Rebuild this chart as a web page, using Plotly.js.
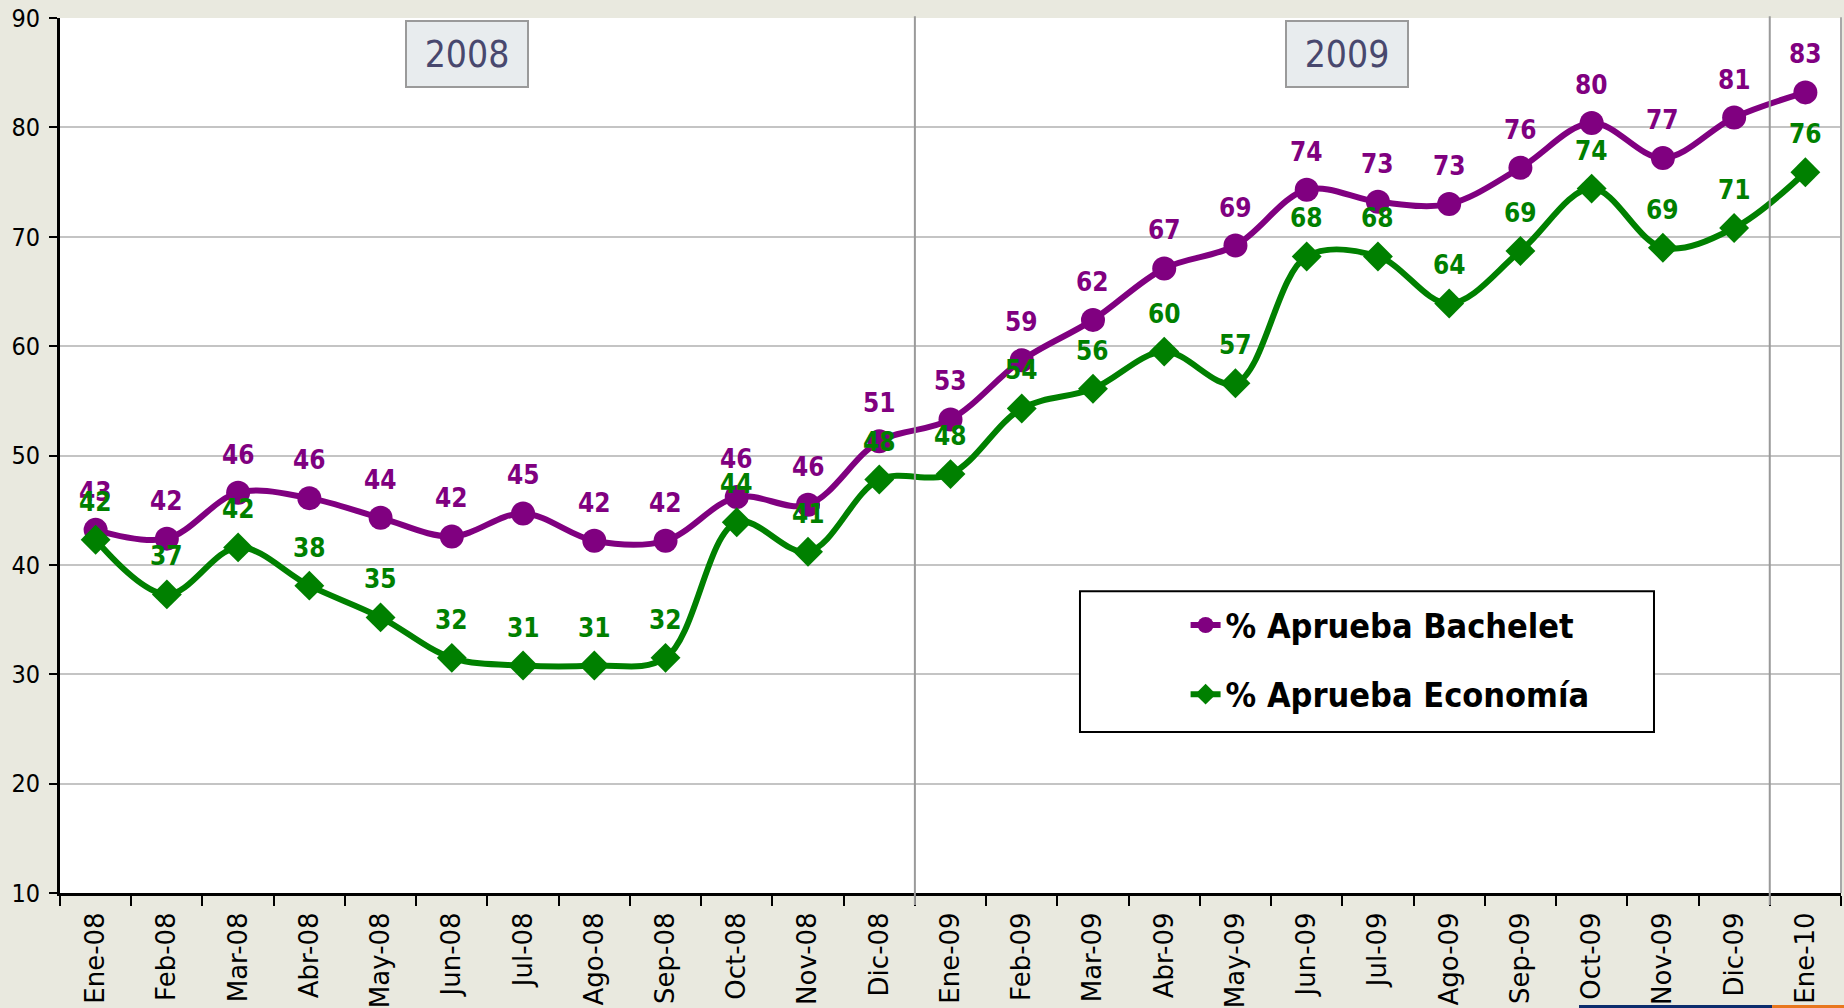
<!DOCTYPE html>
<html>
<head>
<meta charset="utf-8">
<script src="https://cdn.plot.ly/plotly-3.0.1.min.js"></script>
<style>
html,body{margin:0;padding:0;background:#e9e9df;}
#chart{width:1844px;height:1008px;}
</style>
</head>
<body>
<div id="chart"></div>
<script>
// ---- data ----
const months = ["Ene-08","Feb-08","Mar-08","Abr-08","May-08","Jun-08","Jul-08","Ago-08","Sep-08","Oct-08","Nov-08","Dic-08",
                "Ene-09","Feb-09","Mar-09","Abr-09","May-09","Jun-09","Jul-09","Ago-09","Sep-09","Oct-09","Nov-09","Dic-09","Ene-10"];
const bachelet = [43.2,42.4,46.6,46.1,44.3,42.6,44.7,42.2,42.2,46.2,45.5,51.3,
                  53.3,58.7,62.4,67.1,69.2,74.3,73.2,73.0,76.3,80.4,77.2,80.9,83.2];
const bacheletLabels = [43,42,46,46,44,42,45,42,42,46,46,51,53,59,62,67,69,74,73,73,76,80,77,81,83];
const economia = [42.3,37.3,41.6,38.1,35.2,31.5,30.8,30.8,31.5,43.9,41.2,47.8,
                  48.3,54.3,56.1,59.5,56.6,68.2,68.2,63.9,68.7,74.4,69.0,70.8,75.9];
const economiaLabels = [42,37,42,38,35,32,31,31,32,44,41,48,48,54,56,60,57,68,68,64,69,74,69,71,76];
const seriesNames = ["% Aprueba Bachelet","% Aprueba Economía"];
const yearLabels = ["2008","2009"];
const yTicks = [10,20,30,40,50,60,70,80,90];

const PURPLE = "#800080", GREEN = "#008000";
const LABEL_FONT = "DejaVu Sans Condensed, DejaVu Sans, sans-serif";

const traces = [
  {x: months, y: bachelet, name: seriesNames[0], type: "scatter", mode: "lines+markers",
   legendgroup: "a",
   line: {color: PURPLE, width: 6, shape: "spline", smoothing: 1},
   marker: {symbol: "circle", size: 24, color: PURPLE}},
  {x: months, y: economia, name: seriesNames[1], type: "scatter", mode: "lines+markers",
   legendgroup: "b",
   line: {color: GREEN, width: 6, shape: "spline", smoothing: 1},
   marker: {symbol: "diamond", size: 23, color: GREEN}}
];

const annotations = [];
bachelet.forEach((v, i) => annotations.push({
  x: months[i], y: v, xref: "x", yref: "y", text: "<b>" + bacheletLabels[i] + "</b>",
  showarrow: false, yshift: 38, font: {family: LABEL_FONT, size: 26, color: PURPLE}
}));
economia.forEach((v, i) => annotations.push({
  x: months[i], y: v, xref: "x", yref: "y", text: "<b>" + economiaLabels[i] + "</b>",
  showarrow: false, yshift: 38, font: {family: LABEL_FONT, size: 26, color: GREEN}
}));
// year boxes
[[5.21, yearLabels[0]], [17.57, yearLabels[1]]].forEach(([xi, t]) => annotations.push({
  x: xi, y: 0.9594, xref: "x", yref: "paper", xanchor: "center", yanchor: "middle",
  text: t, showarrow: false,
  width: 118, height: 62, bgcolor: "#e8ecee", bordercolor: "#9a9a9a", borderwidth: 2,
  font: {family: "DejaVu Sans Condensed, Liberation Sans, sans-serif", size: 37, color: "#48486e"}
}));

const shapes = [
  // right border of plot area
  {type: "line", xref: "paper", yref: "paper", x0: 1, x1: 1, y0: 0, y1: 1.001,
   line: {color: "#a8a8a8", width: 2}},
  // year separators
  {type: "line", xref: "x", yref: "paper", x0: 11.5, x1: 11.5, y0: -0.0137, y1: 1.002,
   line: {color: "#9a9a9a", width: 2}},
  {type: "line", xref: "x", yref: "paper", x0: 23.5, x1: 23.5, y0: -0.0137, y1: 1.002,
   line: {color: "#9a9a9a", width: 2}},
  // legend box
  {type: "rect", xref: "paper", yref: "paper", x0: 0.5727, x1: 0.895, y0: 0.1839, y1: 0.345,
   fillcolor: "#ffffff", line: {color: "#000000", width: 2}, layer: "above"},
  // bottom strip decoration
  {type: "rect", xref: "paper", yref: "paper", x0: 0.8529, x1: 0.9613, y0: -0.1314, y1: -0.1279,
   fillcolor: "#0c2c6c", line: {width: 0}},
  {type: "rect", xref: "paper", yref: "paper", x0: 0.9613, x1: 1.01, y0: -0.1314, y1: -0.1279,
   fillcolor: "#e8771e", line: {width: 0}}
];

const layout = {
  width: 1844, height: 1008,
  margin: {l: 60, r: 3, t: 17.5, b: 115, pad: 0},
  paper_bgcolor: "#e9e9df", plot_bgcolor: "#ffffff",
  showlegend: true,
  legend: {x: 0.632, y: 0.339, xanchor: "left", yanchor: "top",
           bgcolor: "rgba(0,0,0,0)", borderwidth: 0,
           traceorder: "grouped", tracegroupgap: 22,
           font: {family: LABEL_FONT, size: 34, color: "#000000", weight: "bold"}},
  xaxis: {type: "category", range: [-0.5, 24.5], tickson: "boundaries",
          ticks: "outside", ticklen: 10, tickwidth: 2, tickcolor: "#000",
          showline: true, linecolor: "#000", linewidth: 3, showgrid: false,
          tickangle: -90, ticklabelstandoff: 6,
          tickfont: {family: "DejaVu Sans, Verdana, sans-serif", size: 26, color: "#000"},
          fixedrange: true},
  yaxis: {range: [10, 90], tickvals: yTicks, ticks: "outside", ticklen: 8, tickwidth: 2,
          tickcolor: "#000", showline: true, linecolor: "#000", linewidth: 3,
          showgrid: true, gridcolor: "#c4c4c4", gridwidth: 2, zeroline: false,
          ticklabelstandoff: 4,
          tickfont: {family: "DejaVu Sans Condensed, Liberation Sans, sans-serif", size: 25, color: "#000"},
          fixedrange: true},
  annotations: annotations,
  shapes: shapes
};

Plotly.newPlot("chart", traces, layout, {displayModeBar: false, staticPlot: true});
</script>
</body>
</html>
